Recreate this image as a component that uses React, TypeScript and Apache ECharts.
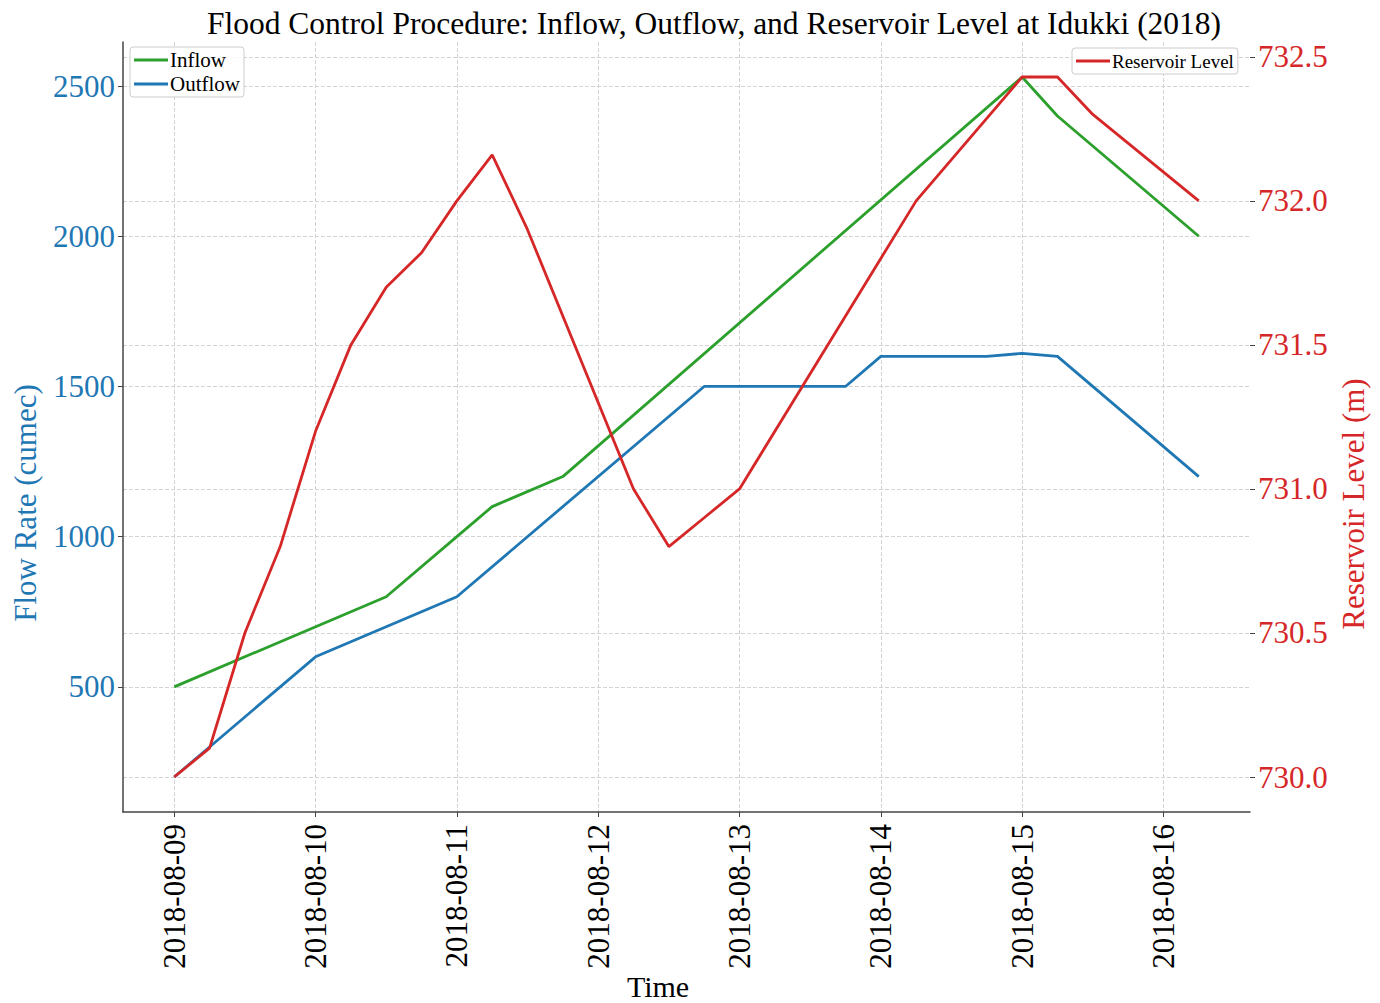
import React, { useEffect, useRef } from 'react';
import * as echarts from 'echarts';

// ---- data ----
const inflowTimes = [
  '2018-08-09 00:00', '2018-08-10 12:00', '2018-08-11 00:00', '2018-08-11 06:00',
  '2018-08-11 18:00', '2018-08-15 00:00', '2018-08-15 06:00', '2018-08-16 06:00',
];
const inflowValues = [500, 800, 1000, 1100, 1200, 2530, 2400, 2000];

const outflowTimes = [
  '2018-08-09 00:00', '2018-08-09 06:00', '2018-08-10 00:00', '2018-08-11 00:00',
  '2018-08-12 18:00', '2018-08-13 18:00', '2018-08-14 00:00', '2018-08-14 18:00',
  '2018-08-15 00:00', '2018-08-15 06:00', '2018-08-16 06:00',
];
const outflowValues = [200, 300, 600, 800, 1500, 1500, 1600, 1600, 1610, 1600, 1200];

const levelTimes = [
  '2018-08-09 00:00', '2018-08-09 06:00', '2018-08-09 12:00', '2018-08-09 18:00',
  '2018-08-10 00:00', '2018-08-10 06:00', '2018-08-10 12:00', '2018-08-10 18:00',
  '2018-08-11 00:00', '2018-08-11 06:00', '2018-08-11 12:00', '2018-08-12 06:00',
  '2018-08-12 12:00', '2018-08-12 18:00', '2018-08-13 00:00', '2018-08-14 06:00',
  '2018-08-15 00:00', '2018-08-15 06:00', '2018-08-15 12:00', '2018-08-16 06:00',
];
const levelValues = [
  730.0, 730.1, 730.5, 730.8, 731.2, 731.5, 731.7, 731.82, 732.0, 732.16,
  731.9, 731.0, 730.8, 730.9, 731.0, 732.0, 732.43, 732.43, 732.3, 732.0,
];

const dayTicks = [
  '2018-08-09', '2018-08-10', '2018-08-11', '2018-08-12',
  '2018-08-13', '2018-08-14', '2018-08-15', '2018-08-16',
];
const flowTicks = [500, 1000, 1500, 2000, 2500];
const levelTicks = [730.0, 730.5, 731.0, 731.5, 732.0, 732.5];

const TITLE = 'Flood Control Procedure: Inflow, Outflow, and Reservoir Level at Idukki (2018)';

const toMs = (s: string) => Date.parse(s.replace(' ', 'T') + ':00Z');
const dayMs = (d: string) => Date.parse(d + 'T00:00:00Z');

const FONT = '"Liberation Serif", "Times New Roman", serif';
const GREEN = '#2ca02c';
const BLUE = '#1f77b4';
const RED = '#d62728';
const GRID_LINE = { show: true, lineStyle: { color: '#d3d3d3', width: 1, type: [4, 2] as number[] } };

export default function App() {
  const ref = useRef<HTMLDivElement>(null);

  useEffect(() => {
    if (!ref.current) return;
    const chart = echarts.init(ref.current, undefined, { renderer: 'svg' });
    const xTicks = dayTicks.map(dayMs);

    chart.setOption({
      animation: false,
      backgroundColor: '#ffffff',
      textStyle: { fontFamily: FONT },
      title: {
        text: TITLE,
        left: 709,
        top: 2,
        textAlign: 'center',
        textStyle: { fontFamily: FONT, fontSize: 31.5, fontWeight: 'normal', color: '#000' },
      },
      grid: { left: 123, right: 130, top: 42, bottom: 191, outerBoundsMode: 'none' },
      legend: [
        {
          data: [
            { name: 'Inflow', icon: 'rect' },
            { name: 'Outflow', icon: 'rect' },
          ],
          orient: 'vertical',
          left: 130,
          top: 47,
          itemWidth: 34,
          itemHeight: 3,
          itemGap: 2,
          padding: [2, 4, 2, 4],
          backgroundColor: 'rgba(255,255,255,0.85)',
          borderColor: '#cccccc',
          borderWidth: 1,
          borderRadius: 3,
          textStyle: { fontFamily: FONT, fontSize: 21, color: '#000', lineHeight: 22, padding: [0, 0, 0, -3] },
        },
        {
          data: [{ name: 'Reservoir Level', icon: 'rect' }],
          orient: 'vertical',
          left: 1072,
          top: 48,
          itemWidth: 34,
          itemHeight: 3,
          padding: [2, 4, 2, 4],
          backgroundColor: 'rgba(255,255,255,0.85)',
          borderColor: '#cccccc',
          borderWidth: 1,
          borderRadius: 3,
          textStyle: { fontFamily: FONT, fontSize: 19, color: '#000', lineHeight: 22, padding: [0, 0, 0, -3] },
        },
      ],
      xAxis: {
        type: 'value',
        min: toMs('2018-08-08 15:18'),
        max: toMs('2018-08-16 14:42'),
        axisLine: { show: true, lineStyle: { color: '#444', width: 1.5 } },
        axisTick: { show: true, length: 5, lineStyle: { color: '#444' }, customValues: xTicks },
        axisLabel: {
          customValues: xTicks,
          rotate: 90,
          margin: 12,
          fontFamily: FONT,
          fontSize: 31,
          color: '#000',
          formatter: (v: number) => new Date(v).toISOString().slice(0, 10),
        },
        splitLine: GRID_LINE,
      },
      yAxis: [
        {
          type: 'value',
          min: 83.5,
          max: 2646.5,
          position: 'left',
          axisLine: { show: true, lineStyle: { color: '#444', width: 1.5 } },
          axisTick: { show: true, length: 5, lineStyle: { color: '#444' }, customValues: flowTicks },
          axisLabel: {
            customValues: flowTicks,
            margin: 8,
            fontFamily: FONT,
            fontSize: 31,
            color: BLUE,
            formatter: (v: number) => String(Math.round(v)),
          },
          splitLine: GRID_LINE,
        },
        {
          type: 'value',
          min: 729.8785,
          max: 732.5515,
          position: 'right',
          axisLine: { show: false },
          axisTick: { show: true, length: 5, lineStyle: { color: '#444' }, customValues: levelTicks },
          axisLabel: {
            customValues: levelTicks,
            margin: 8,
            fontFamily: FONT,
            fontSize: 31,
            color: RED,
            formatter: (v: number) => v.toFixed(1),
          },
          splitLine: GRID_LINE,
        },
      ],
      graphic: [
        {
          type: 'text',
          x: 25,
          y: 503,
          rotation: Math.PI / 2,
          style: { text: 'Flow Rate (cumec)', fill: BLUE, font: `31px ${FONT}`, align: 'center', verticalAlign: 'middle' },
        },
        {
          type: 'text',
          x: 1353,
          y: 504,
          rotation: Math.PI / 2,
          style: { text: 'Reservoir Level (m)', fill: RED, font: `31px ${FONT}`, align: 'center', verticalAlign: 'middle' },
        },
        {
          type: 'text',
          x: 658,
          y: 986,
          style: { text: 'Time', fill: '#000', font: `30px ${FONT}`, align: 'center', verticalAlign: 'middle' },
        },
      ],
      series: [
        {
          name: 'Inflow',
          type: 'line',
          yAxisIndex: 0,
          symbol: 'none',
          z: 2,
          lineStyle: { color: GREEN, width: 2.8 },
          itemStyle: { color: GREEN },
          data: inflowTimes.map((t, i) => [toMs(t), inflowValues[i]]),
        },
        {
          name: 'Outflow',
          type: 'line',
          yAxisIndex: 0,
          symbol: 'none',
          z: 3,
          lineStyle: { color: BLUE, width: 2.8 },
          itemStyle: { color: BLUE },
          data: outflowTimes.map((t, i) => [toMs(t), outflowValues[i]]),
        },
        {
          name: 'Reservoir Level',
          type: 'line',
          yAxisIndex: 1,
          symbol: 'none',
          z: 4,
          lineStyle: { color: RED, width: 2.8 },
          itemStyle: { color: RED },
          data: levelTimes.map((t, i) => [toMs(t), levelValues[i]]),
        },
      ],
    });

    return () => chart.dispose();
  }, []);

  return (
    <div
      ref={ref}
      style={{ position: 'fixed', left: 0, top: 0, width: 1380, height: 1003, background: '#fff' }}
    />
  );
}
